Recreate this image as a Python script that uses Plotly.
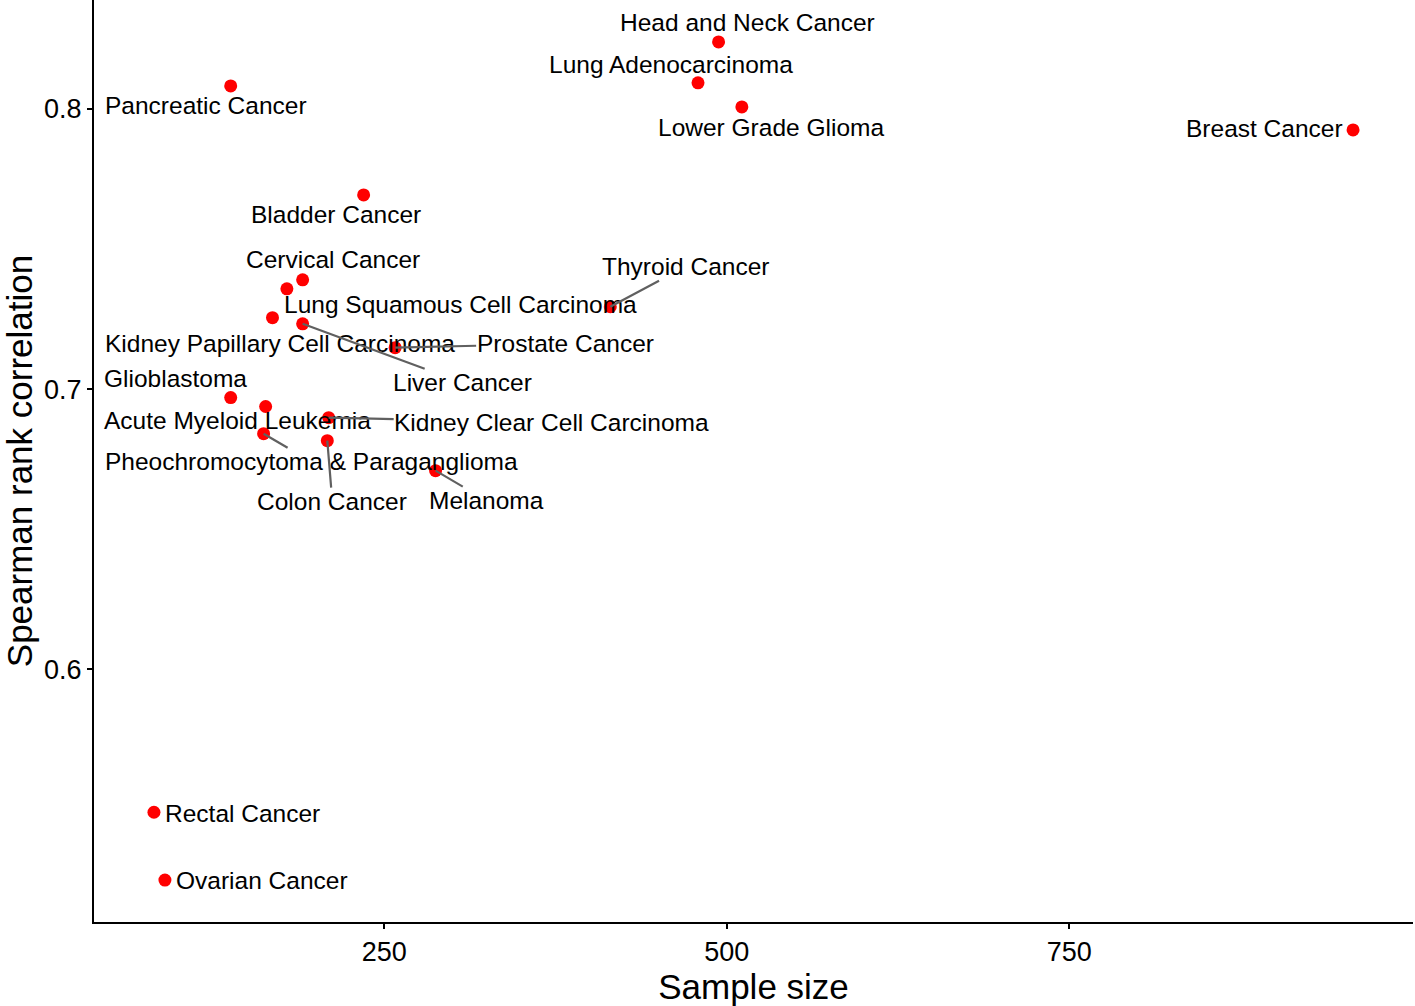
import plotly.graph_objects as go

# ---- data ----
cancers = [
    "Head and Neck Cancer", "Lung Adenocarcinoma", "Lower Grade Glioma", "Breast Cancer",
    "Pancreatic Cancer", "Bladder Cancer", "Cervical Cancer", "Lung Squamous Cell Carcinoma",
    "Kidney Papillary Cell Carcinoma", "Liver Cancer", "Prostate Cancer", "Glioblastoma",
    "Acute Myeloid Leukemia", "Kidney Clear Cell Carcinoma", "Pheochromocytoma & Paraganglioma",
    "Colon Cancer", "Melanoma", "Thyroid Cancer", "Rectal Cancer", "Ovarian Cancer",
]
sample_size = [
    494, 479, 511, 957,
    138, 235, 190.5, 179,
    168.5, 190.5, 258, 138,
    163.5, 209.5, 162,
    208.5, 287.5, 415, 82, 90,
]
spearman = [
    0.8239, 0.8093, 0.8007, 0.7925,
    0.8082, 0.7693, 0.7390, 0.7358,
    0.7255, 0.7233, 0.7148, 0.6970,
    0.6938, 0.6898, 0.6841,
    0.6816, 0.6709, 0.7294, 0.5490, 0.5248,
]
x_ticks = [250, 500, 750]
y_ticks = [0.6, 0.7, 0.8]

# ---- label placement (pixel offsets of label centre from its point; repel-style) ----
label_offset = {
    "Head and Neck Cancer": (29, -19, False),
    "Lung Adenocarcinoma": (-27, -18, False),
    "Lower Grade Glioma": (29, 21, False),
    "Breast Cancer": (-89, -1, False),
    "Pancreatic Cancer": (-25, 20, False),
    "Bladder Cancer": (-28, 20, False),
    "Cervical Cancer": (30, -20, False),
    "Lung Squamous Cell Carcinoma": (174, 16, False),
    "Kidney Papillary Cell Carcinoma": (8, 26, False),
    "Liver Cancer": (160, 59, True),
    "Prostate Cancer": (170, -4, True),
    "Glioblastoma": (-55, -19, False),
    "Acute Myeloid Leukemia": (-28, 14, False),
    "Kidney Clear Cell Carcinoma": (223, 5, True),
    "Pheochromocytoma & Paraganglioma": (48, 28, True),
    "Colon Cancer": (5, 61, True),
    "Melanoma": (51, 30, True),
    "Thyroid Cancer": (75, -40, True),
    "Rectal Cancer": (89, 1, False),
    "Ovarian Cancer": (97, 0, False),
}

FONT = "Liberation Sans, Arial, Helvetica, sans-serif"


def expand(vals, frac=0.05):
    lo, hi = min(vals), max(vals)
    pad = (hi - lo) * frac
    return [lo - pad, hi + pad]


fig = go.Figure()
fig.add_trace(go.Scatter(
    x=sample_size, y=spearman, mode="markers",
    marker=dict(color="#FF0000", size=13, line=dict(width=0)),
    text=cancers, hoverinfo="text+x+y", showlegend=False,
))

annotations = []
for name, xv, yv in zip(cancers, sample_size, spearman):
    dx, dy, seg = label_offset[name]
    annotations.append(dict(
        x=xv, y=yv, xref="x", yref="y", text=name,
        showarrow=True, arrowhead=0, arrowwidth=2.2 if seg else 0.1,
        arrowcolor="#606060" if seg else "rgba(0,0,0,0)",
        ax=dx, ay=dy, axref="pixel", ayref="pixel",
        font=dict(family=FONT, size=24.5, color="#000000"),
        xanchor="center", yanchor="middle", borderpad=0,
    ))

fig.update_layout(
    width=1415, height=1006,
    margin=dict(l=94, r=2, t=0, b=84),
    paper_bgcolor="white", plot_bgcolor="white",
    font=dict(family=FONT, color="#000000"),
    annotations=annotations,
    xaxis=dict(
        range=expand(sample_size), tickvals=x_ticks, ticktext=[str(v) for v in x_ticks],
        showgrid=False, zeroline=False, showline=True, linecolor="black", linewidth=2,
        ticks="outside", ticklen=5, tickwidth=2, tickcolor="black",
        tickfont=dict(size=27, color="#000000"),
        title=dict(text="Sample size", font=dict(size=35, color="#000000"), standoff=4),
    ),
    yaxis=dict(
        range=expand(spearman), tickvals=y_ticks, ticktext=[f"{v:.1f}" for v in y_ticks],
        showgrid=False, zeroline=False, showline=True, linecolor="black", linewidth=2,
        ticks="outside", ticklen=5, tickwidth=2, tickcolor="black",
        tickfont=dict(size=27, color="#000000"),
        title=dict(text="Spearman rank correlation", font=dict(size=35, color="#000000"), standoff=8),
    ),
)

fig.write_html("out.html", config={"displayModeBar": False},
               post_script="document.body.style.margin='0px';")
